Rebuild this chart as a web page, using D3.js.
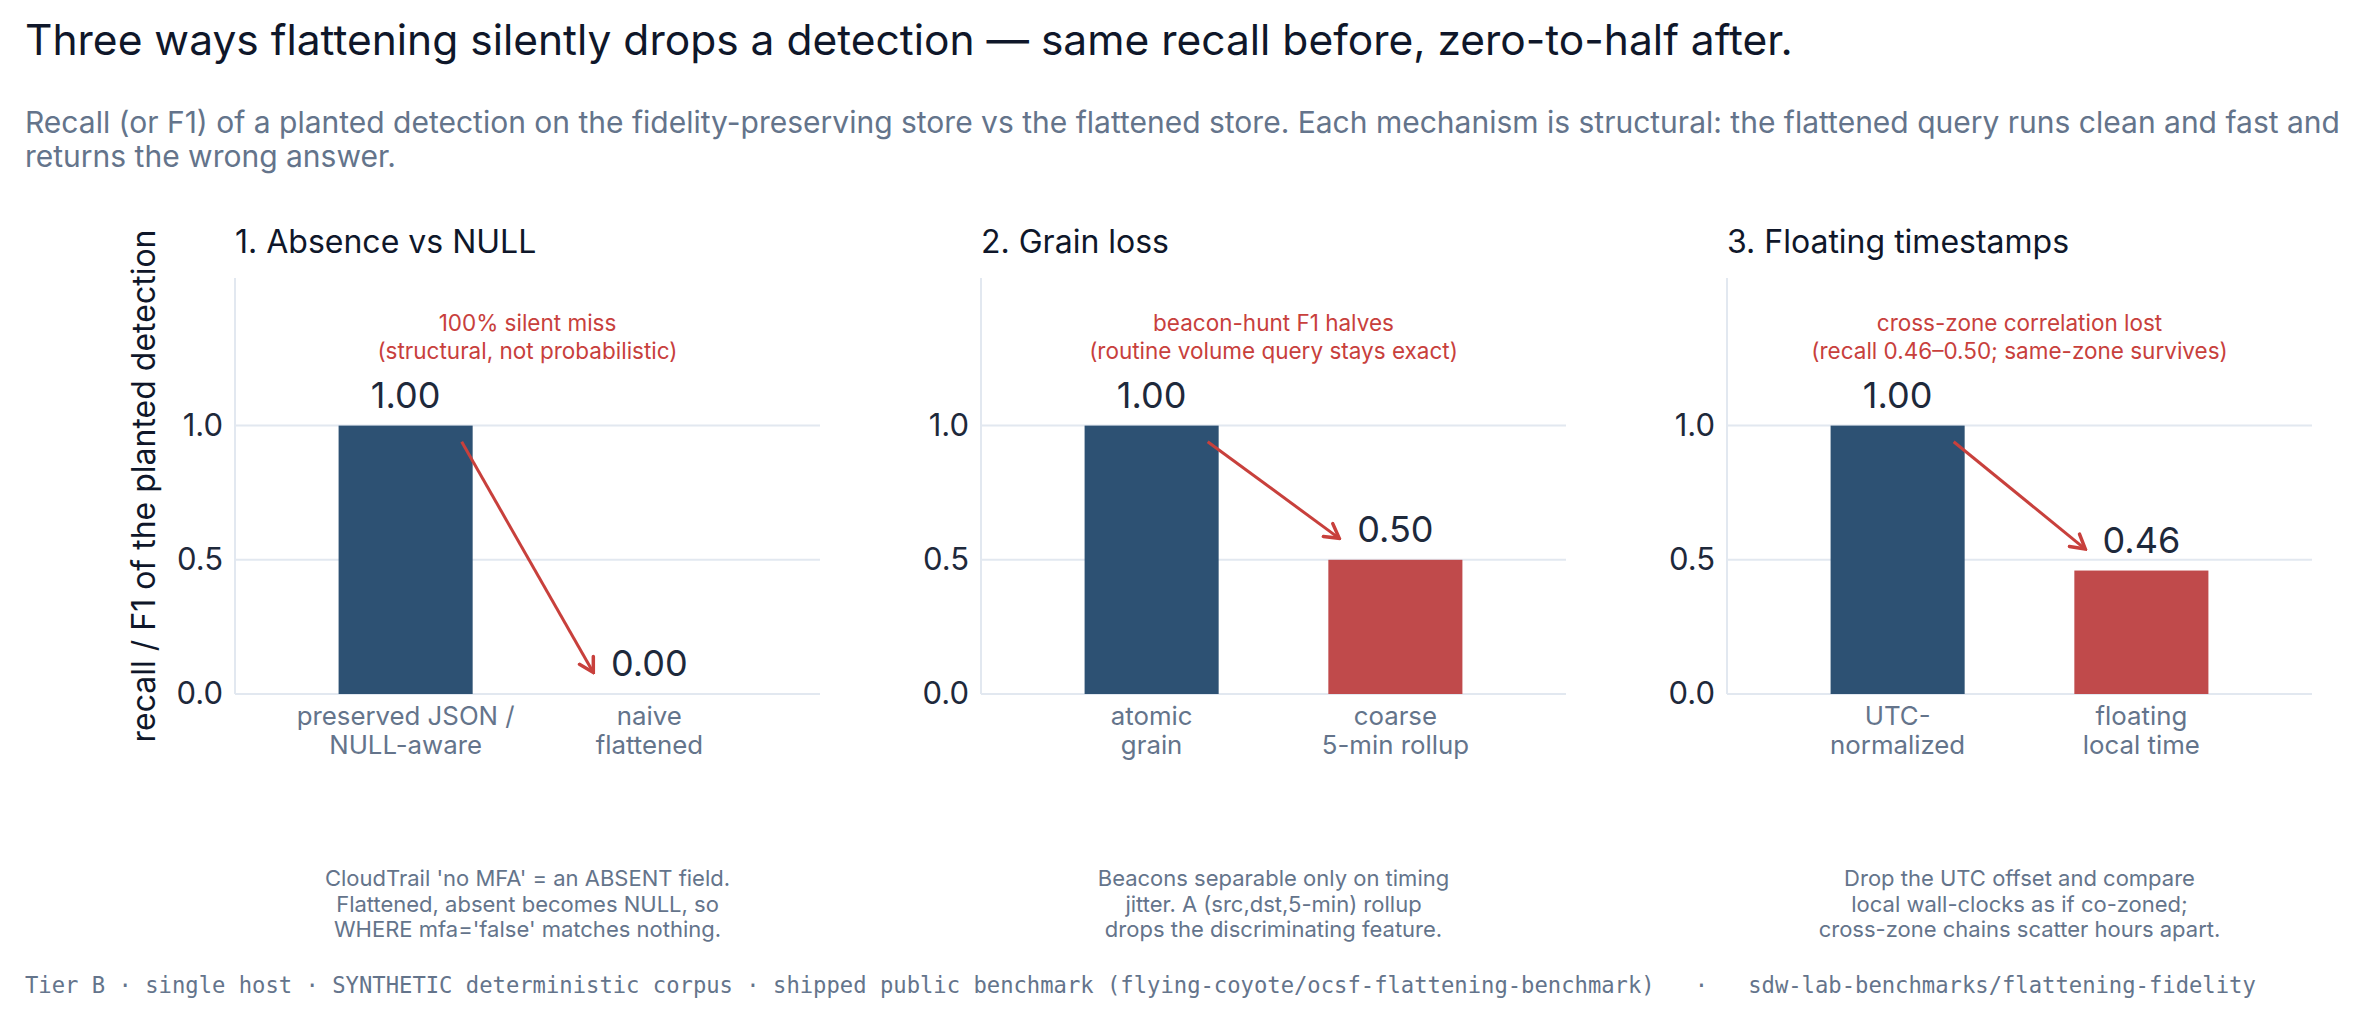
<!DOCTYPE html>
<html>
<head>
<meta charset="utf-8">
<script src="https://cdn.jsdelivr.net/npm/d3@7"></script>
<style>
  html, body { margin: 0; padding: 0; background: #ffffff; }
  svg { display: block; }
</style>
</head>
<body>
<svg id="chart" width="2380" height="1022"></svg>
<script>
const chartTitle = 'Three ways flattening silently drops a detection \u2014 same recall before, zero-to-half after.'
const subtitleLines = [
    'Recall (or F1) of a planted detection on the fidelity-preserving store vs the flattened store. Each mechanism is structural: the flattened query runs clean and fast and',
    'returns the wrong answer.'
]
const panelTitles = ['1. Absence vs NULL', '2. Grain loss', '3. Floating timestamps']
const categoryLabels = [
    [['preserved JSON /', 'NULL-aware'], ['naive', 'flattened']],
    [['atomic', 'grain'], ['coarse', '5-min rollup']],
    [['UTC-', 'normalized'], ['floating', 'local time']]
]
const preservedValues = [1.00, 1.00, 1.00]
const flattenedValues = [0.00, 0.50, 0.46]
const noteLines = [
    ['100% silent miss', '(structural, not probabilistic)'],
    ['beacon-hunt F1 halves', '(routine volume query stays exact)'],
    ['cross-zone correlation lost', '(recall 0.46\u20130.50; same-zone survives)']
]
const footnoteLines = [
    ['CloudTrail \'no MFA\' = an ABSENT field.', 'Flattened, absent becomes NULL, so', 'WHERE mfa=\'false\' matches nothing.'],
    ['Beacons separable only on timing', 'jitter. A (src,dst,5-min) rollup', 'drops the discriminating feature.'],
    ['Drop the UTC offset and compare', 'local wall-clocks as if co-zoned;', 'cross-zone chains scatter hours apart.']
]
const yTicks = [0.0, 0.5, 1.0]
const yLabel = 'recall / F1 of the planted detection'
const footer = 'Tier B \u00b7 single host \u00b7 SYNTHETIC deterministic corpus \u00b7 shipped public benchmark (flying-coyote/ocsf-flattening-benchmark)   \u00b7   sdw-lab-benchmarks/flattening-fidelity'

const SANS = 'Inter, "Noto Sans", sans-serif'
const MONO = '"DejaVu Sans Mono", "Liberation Mono", monospace'
const colors = {
    title: '#0f172a',
    muted: '#64748b',
    value: '#1e293b',
    grid: '#e2e8f0',
    blue: '#2d5173',
    red: '#c04a4b',
    redText: '#c8403c'
}

const svg = d3.select('#chart')

svg.append('text')
    .attr('x', 25).attr('y', 55)
    .attr('font-family', SANS).attr('font-size', 42.5)
    .attr('fill', colors.title)
    .text(chartTitle)

svg.append('text')
    .attr('font-family', SANS).attr('font-size', 30)
    .attr('fill', colors.muted)
    .selectAll('tspan')
    .data(subtitleLines)
    .join('tspan')
    .attr('x', 25)
    .attr('y', (d, i) => 133 + i * 34)
    .text(d => d)

const plotWidth = 585
const plotTop = 278
const plotBottom = 694
const panelLefts = [235, 981, 1727]

const x = d3.scaleLinear().domain([-0.7, 1.7]).range([0, plotWidth])
const y = d3.scaleLinear().domain([0, 1.55]).range([plotBottom, plotTop])
const barWidth = x(0.55) - x(0)

const defs = svg.append('defs')
defs.append('marker')
    .attr('id', 'arrowhead')
    .attr('viewBox', '-16 -10 18 20')
    .attr('refX', 0).attr('refY', 0)
    .attr('markerWidth', 18).attr('markerHeight', 20)
    .attr('markerUnits', 'userSpaceOnUse')
    .attr('orient', 'auto')
    .append('path')
    .attr('d', 'M -14 -8 L 0 0 L -14 8')
    .attr('fill', 'none')
    .attr('stroke', colors.redText)
    .attr('stroke-width', 3.5)
    .attr('stroke-linecap', 'round')
    .attr('stroke-linejoin', 'miter')

panelTitles.forEach((title, i) => {
    const g = svg.append('g').attr('transform', `translate(${panelLefts[i]}, 0)`)
    const values = [preservedValues[i], flattenedValues[i]]

    g.append('text')
        .attr('x', 0).attr('y', 253)
        .attr('font-family', SANS).attr('font-size', 32)
        .attr('fill', colors.title)
        .text(title)

    // gridlines
    g.selectAll('line.grid')
        .data(yTicks)
        .join('line')
        .attr('class', 'grid')
        .attr('x1', 0).attr('x2', plotWidth)
        .attr('y1', d => y(d)).attr('y2', d => y(d))
        .attr('stroke', colors.grid)
        .attr('stroke-width', 2)

    g.append('line')
        .attr('x1', 0).attr('x2', 0)
        .attr('y1', plotTop).attr('y2', plotBottom)
        .attr('stroke', colors.grid)
        .attr('stroke-width', 2)

    const yAxis = d3.axisLeft(y).tickValues(yTicks).tickFormat(d3.format('.1f')).tickSize(0).tickPadding(12)
    const axisG = g.append('g').call(yAxis)
    axisG.select('.domain').remove()
    axisG.selectAll('text')
        .attr('font-family', SANS).attr('font-size', 31)
        .attr('fill', colors.value)

    g.selectAll('rect.bar')
        .data(values)
        .join('rect')
        .attr('class', 'bar')
        .attr('x', (d, j) => x(j) - barWidth / 2)
        .attr('width', barWidth)
        .attr('y', d => y(d))
        .attr('height', d => y(0) - y(d))
        .attr('fill', (d, j) => j === 0 ? colors.blue : colors.red)

    g.selectAll('text.value')
        .data(values)
        .join('text')
        .attr('class', 'value')
        .attr('x', (d, j) => x(j))
        .attr('y', d => y(d) - 18)
        .attr('text-anchor', 'middle')
        .attr('font-family', SANS).attr('font-size', 36)
        .attr('fill', colors.value)
        .text(d => d3.format('.2f')(d))

    categoryLabels[i].forEach((lines, j) => {
        g.append('text')
            .attr('text-anchor', 'middle')
            .attr('font-family', SANS).attr('font-size', 25.8)
            .attr('fill', colors.muted)
            .selectAll('tspan')
            .data(lines)
            .join('tspan')
            .attr('x', x(j))
            .attr('y', (d, k) => 725 + k * 29)
            .text(d => d)
    })

    g.append('text')
        .attr('text-anchor', 'middle')
        .attr('font-family', SANS).attr('font-size', 22.5)
        .attr('fill', colors.redText)
        .selectAll('tspan')
        .data(noteLines[i])
        .join('tspan')
        .attr('x', plotWidth / 2)
        .attr('y', (d, k) => 331 + k * 28)
        .text(d => d)

    g.append('line')
        .attr('x1', x(0.23)).attr('y1', y(0.94))
        .attr('x2', x(0.77)).attr('y2', y(flattenedValues[i] + 0.08))
        .attr('stroke', colors.redText)
        .attr('stroke-width', 3)
        .attr('marker-end', 'url(#arrowhead)')

    g.append('text')
        .attr('text-anchor', 'middle')
        .attr('font-family', SANS).attr('font-size', 22)
        .attr('fill', colors.muted)
        .selectAll('tspan')
        .data(footnoteLines[i])
        .join('tspan')
        .attr('x', plotWidth / 2)
        .attr('y', (d, k) => 886 + k * 25.5)
        .text(d => d)
})

svg.append('text')
    .attr('transform', `translate(155, ${(plotTop + plotBottom) / 2}) rotate(-90)`)
    .attr('text-anchor', 'middle')
    .attr('font-family', SANS).attr('font-size', 32)
    .attr('fill', colors.title)
    .text(yLabel)

svg.append('text')
    .attr('x', 25).attr('y', 993)
    .attr('font-family', MONO).attr('font-size', 22.2)
    .attr('fill', colors.muted)
    .attr('xml:space', 'preserve')
    .style('white-space', 'pre')
    .text(footer)
</script>
</body>
</html>
